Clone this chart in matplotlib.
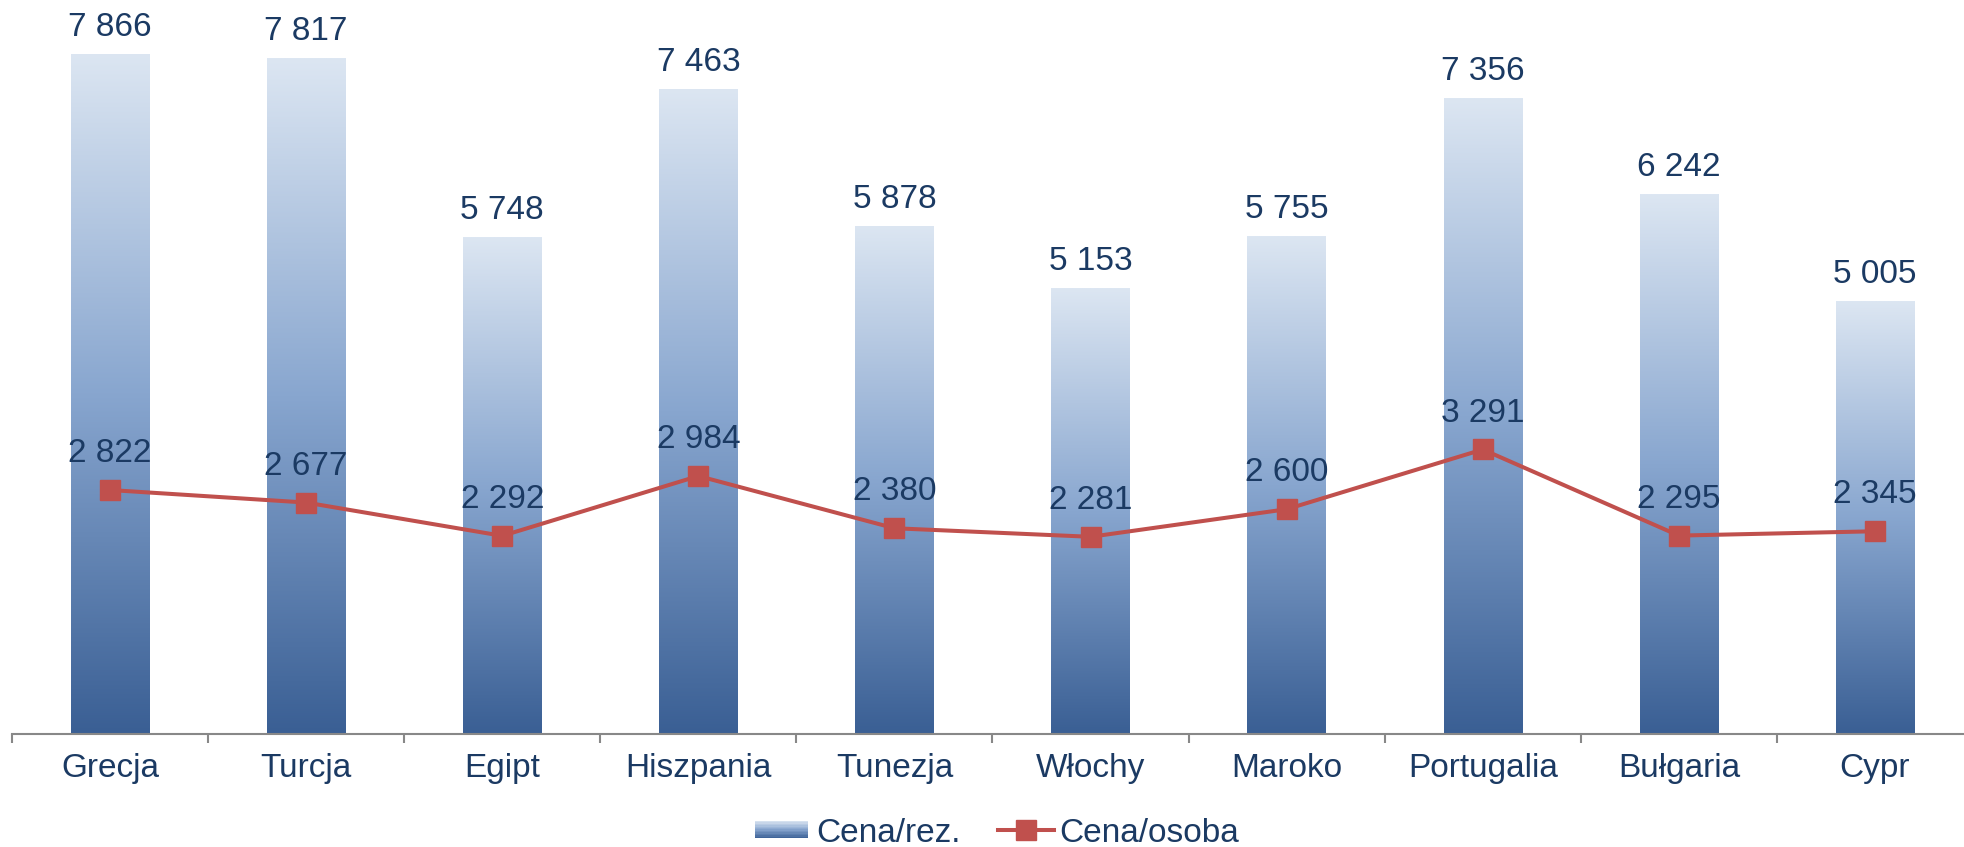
import numpy as np
import matplotlib
matplotlib.use('Agg')
import matplotlib.pyplot as plt
from matplotlib.colors import LinearSegmentedColormap
from matplotlib.patches import Rectangle
from matplotlib.lines import Line2D
from matplotlib.legend_handler import HandlerBase

# --- DATOS ---
kraje = ['Grecja', 'Turcja', 'Egipt', 'Hiszpania', 'Tunezja', 'Włochy',
         'Maroko', 'Portugalia', 'Bułgaria', 'Cypr']
cena_rez = [7866, 7817, 5748, 7463, 5878, 5153, 5755, 7356, 6242, 5005]
cena_osoba = [2822, 2677, 2292, 2984, 2380, 2281, 2600, 3291, 2295, 2345]

plt.rcParams['font.family'] = ['Liberation Sans', 'DejaVu Sans']
txt_color = '#1B3A63'
red = '#C0504D'
grad = LinearSegmentedColormap.from_list(
    'niebieski', [(0.0, '#3A5F94'), (0.5, '#88A6CF'), (1.0, '#DCE6F2')])


def fmt(v):
    return f'{v:,}'.replace(',', ' ')


class GradientHandler(HandlerBase):
    # prostokat z gradientem pionowym do legendy
    def create_artists(self, legend, orig_handle, xdescent, ydescent,
                       width, height, fontsize, trans):
        n = 12
        h = height * 0.74
        y0 = -ydescent + (height - h) / 2
        out = []
        for i in range(n):
            c = grad(1 - (i + 0.5) / n)
            r = Rectangle((-xdescent, y0 + h - (i + 1) * h / n), width * 0.93, h / n + 0.3,
                          facecolor=c, edgecolor='none', transform=trans)
            out.append(r)
        return out


fig = plt.figure(figsize=(19.64, 8.47), dpi=100)
ax = fig.add_axes([12 / 1964, 113 / 847, 1961 / 1964, 734 / 847])

x = np.arange(len(kraje))
bars = ax.bar(x, cena_rez, width=0.40, color='none', edgecolor='none', zorder=2)
gradient = np.linspace(0, 1, 256).reshape(-1, 1)
for b in bars:
    x0, w, h = b.get_x(), b.get_width(), b.get_height()
    im = ax.imshow(gradient, cmap=grad, origin='lower', aspect='auto',
                   extent=(x0, x0 + w, 0, h), zorder=2)
    im.set_clip_path(b)

ax.plot(x, cena_osoba, color=red, lw=2.9, marker='s', markersize=14,
        markerfacecolor=red, markeredgecolor=red, zorder=3)

for xi, v in zip(x, cena_rez):
    ax.annotate(fmt(v), (xi, v), xytext=(0, 13), textcoords='offset points',
                ha='center', va='baseline', fontsize=24, color=txt_color)
for xi, v in zip(x, cena_osoba):
    ax.annotate(fmt(v), (xi, v), xytext=(0, 20), textcoords='offset points',
                ha='center', va='baseline', fontsize=24, color=txt_color, zorder=4)

ax.set_xlim(-0.5, len(kraje) - 0.5)
ax.set_ylim(0, 8490)
ax.set_yticks([])
for s in ['top', 'right', 'left']:
    ax.spines[s].set_visible(False)
ax.spines['bottom'].set_color('#888888')
ax.spines['bottom'].set_linewidth(1.5)

ax.set_xticks(np.arange(-0.5, len(kraje), 1.0))
ax.set_xticklabels([])
ax.tick_params(axis='x', which='major', length=6.5, width=1.5, color='#888888')
ax.set_xticks(x, minor=True)
ax.set_xticklabels(kraje, minor=True, fontsize=24, color=txt_color)
ax.tick_params(axis='x', which='minor', length=0, pad=14)

h_bar = Rectangle((0, 0), 1, 1)
h_line = Line2D([], [], color=red, lw=2.9, marker='s', markersize=14)
fig.legend([h_bar, h_line], ['Cena/rez.', 'Cena/osoba'],
           handler_map={Rectangle: GradientHandler()},
           loc='center', bbox_to_anchor=(0.5076, 0.0165), ncol=2, frameon=False,
           fontsize=24, labelcolor=txt_color, handlelength=1.7,
           handletextpad=0.15, columnspacing=1.1, borderpad=0)

fig.savefig('out.png', dpi=100)
